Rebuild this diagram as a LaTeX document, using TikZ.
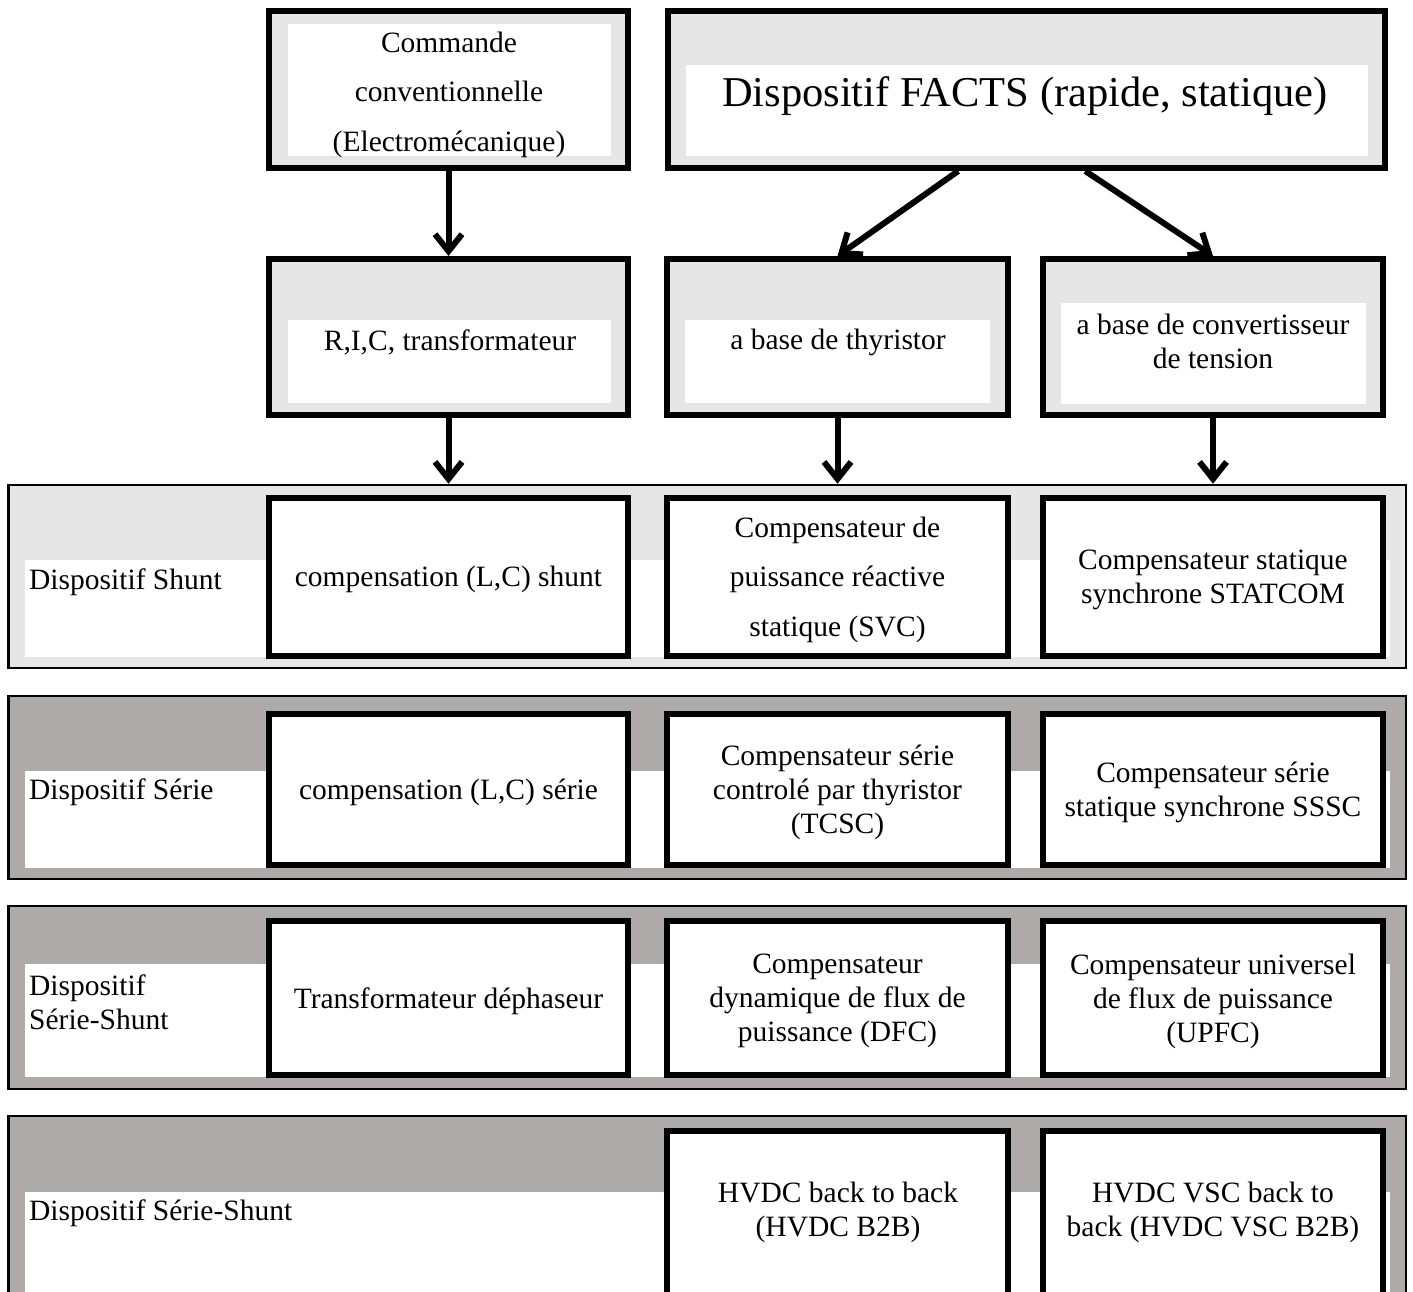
\documentclass[tikz,border=0pt]{standalone}
\usepackage{fontspec}
\setmainfont{Liberation Serif}
\usetikzlibrary{arrows.meta}
\definecolor{grisclair}{RGB}{230,230,230}
\definecolor{grisfonce}{RGB}{174,170,170}
\tikzstyle{every node} = [
		font = \fontsize{29.5}{34}\selectfont,
		inner sep = 0pt,
	]
\tikzstyle{bande} = [
		rectangle,
		draw = black,
		line width = 2.5pt,
		minimum width = 1397.5pt,
		minimum height = 183pt
	]
\tikzstyle{cadre} = [
		rectangle,
		draw = black,
		line width = 6pt,
		fill = white
	]
\tikzstyle{texte} = [align = center, yshift = -3pt]
\tikzstyle{interligne} = [font = \fontsize{29.5}{49.5}\selectfont]
\tikzstyle{etiquette} = [anchor = west, align = left, yshift = -3pt]
\tikzstyle{fleche} = [
		line width = 6pt,
		-{Straight Barb[length = 17pt, width = 27pt]}
	]

\begin{document}
\begin{tikzpicture}[x = 1pt, y = -1pt]
	\useasboundingbox (0,0) rectangle (1413,1292);
	\clip (0,0) rectangle (1413,1292);

		%------------------------------Haut------------------------------
		\node [cadre, fill = grisclair, minimum width = 359pt, minimum height = 157pt] (commande) at (448.5,89.5) {};
		\node [cadre, fill = grisclair, minimum width = 717.5pt, minimum height = 157pt] (facts) at (1026.25,89.5) {};
		\node [cadre, fill = grisclair, minimum width = 359pt, minimum height = 156pt] (ric) at (448.5,337) {};
		\node [cadre, fill = grisclair, minimum width = 341pt, minimum height = 156pt] (thyristor) at (837.5,337) {};
		\node [cadre, fill = grisclair, minimum width = 340pt, minimum height = 156pt] (convertisseur) at (1213,337) {};

		\fill [white] (288,24) rectangle (611,156);
		\fill [white] (686,65) rectangle (1368,156);
		\fill [white] (288,320) rectangle (611,403);
		\fill [white] (685,320) rectangle (990,403);
		\fill [white] (1061,303) rectangle (1366,404);

		\node [texte, interligne] (commandeTxt) at (449,91.5) {Commande\\conventionnelle\\(Electromécanique)};
		\node [texte, font = \fontsize{42.5}{50}\selectfont] (factsTxt) at (1025,93) {Dispositif FACTS (rapide, statique)};
		\node [texte] (ricTxt) at (450,339) {R,I,C, transformateur};
		\node [texte] (thyristorTxt) at (838,339) {a base de thyristor};
		\node [texte] (convertisseurTxt) at (1213,338) {a base de convertisseur\\de tension};

		%------------------------------Shunt------------------------------
		\node [bande, fill = grisclair] (bandeShunt) at (707.25,576.5) {};
		\fill [white] (25,560) rectangle (1390,657);
		\node [etiquette] (shuntLbl) at (29,579) {Dispositif Shunt};
		\node [cadre, minimum width = 359pt, minimum height = 157.5pt] (shuntConv) at (448.5,576.75) {};
		\node [cadre, minimum width = 341pt, minimum height = 157.5pt] (shuntSVC) at (837.5,576.75) {};
		\node [cadre, minimum width = 340pt, minimum height = 157.5pt] (shuntSTATCOM) at (1213,576.75) {};
		\node [texte] (shuntConvTxt) at (shuntConv) {compensation (L,C) shunt};
		\node [texte, interligne] (shuntSVCTxt) at (shuntSVC) {Compensateur de\\puissance réactive\\statique (SVC)};
		\node [texte] (shuntSTATCOMTxt) at (shuntSTATCOM) {Compensateur statique\\synchrone STATCOM};

		%------------------------------Serie------------------------------
		\node [bande, fill = grisfonce] (bandeSerie) at (707.25,787.5) {};
		\fill [white] (25,771) rectangle (1390,868);
		\node [etiquette] (serieLbl) at (29,789) {Dispositif Série};
		\node [cadre, minimum width = 359pt, minimum height = 151pt] (serieConv) at (448.5,789.5) {};
		\node [cadre, minimum width = 341pt, minimum height = 151pt] (serieTCSC) at (837.5,789.5) {};
		\node [cadre, minimum width = 340pt, minimum height = 151pt] (serieSSSC) at (1213,789.5) {};
		\node [texte] (serieConvTxt) at (serieConv) {compensation (L,C) série};
		\node [texte] (serieTCSCTxt) at (serieTCSC) {Compensateur série\\controlé par thyristor\\(TCSC)};
		\node [texte] (serieSSSCTxt) at (serieSSSC) {Compensateur série\\statique synchrone SSSC};

		%------------------------------Serie-Shunt------------------------------
		\node [bande, fill = grisfonce] (bandeMixte) at (707.25,997.5) {};
		\fill [white] (25,964) rectangle (1390,1077);
		\node [etiquette] (mixteLbl) at (29,999) {Dispositif\\Série-Shunt};
		\node [cadre, minimum width = 359pt, minimum height = 154pt] (mixteDephaseur) at (448.5,998) {};
		\node [cadre, minimum width = 341pt, minimum height = 154pt] (mixteDFC) at (837.5,998) {};
		\node [cadre, minimum width = 340pt, minimum height = 154pt] (mixteUPFC) at (1213,998) {};
		\node [texte] (mixteDephaseurTxt) at (mixteDephaseur) {Transformateur déphaseur};
		\node [texte] (mixteDFCTxt) at (mixteDFC) {Compensateur\\dynamique de flux de\\puissance (DFC)};
		\node [texte] (mixteUPFCTxt) at (mixteUPFC) {Compensateur universel\\de flux de puissance\\(UPFC)};

		%------------------------------HVDC------------------------------
		\node [bande, fill = grisfonce, minimum height = 200pt] (bandeHVDC) at (707.25,1216) {};
		\fill [white] (25,1192) rectangle (1390,1330);
		\node [etiquette] (hvdcLbl) at (29,1210) {Dispositif Série-Shunt};
		\node [cadre, minimum width = 341pt, minimum height = 200pt] (hvdcB2B) at (837.5,1231) {};
		\node [cadre, minimum width = 340pt, minimum height = 200pt] (hvdcVSC) at (1213,1231) {};
		\node [texte] (hvdcB2BTxt) at (838,1209) {HVDC back to back\\(HVDC B2B)};
		\node [texte] (hvdcVSCTxt) at (1213,1209) {HVDC VSC back to\\back (HVDC VSC B2B)};

		%------------------------------Fleches------------------------------
		\draw [fleche] (commande.south) -- (ric.north);
		\draw [fleche] ([xshift = -68pt]facts.south) -- (thyristor.north);
		\draw [fleche] ([xshift = 59pt]facts.south) -- (convertisseur.north);
		\draw [fleche] (ric.south) -- (ric.south |- bandeShunt.north);
		\draw [fleche] (thyristor.south) -- (thyristor.south |- bandeShunt.north);
		\draw [fleche] (convertisseur.south) -- (convertisseur.south |- bandeShunt.north);

	\end{tikzpicture}
\end{document}
